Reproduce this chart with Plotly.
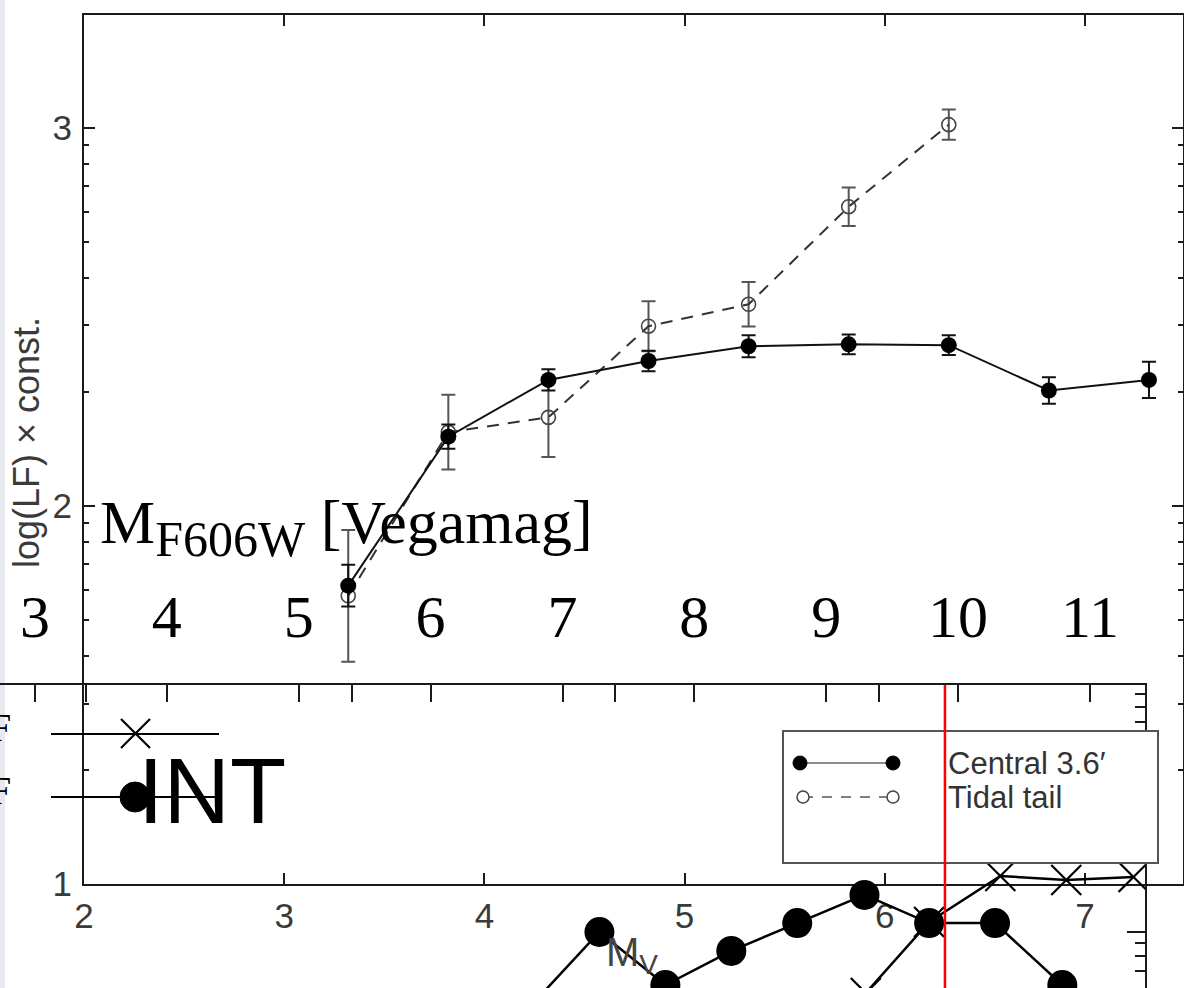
import math
import plotly.graph_objects as go

W, H = 1184, 988

# ---- luminosity function: central field vs tidal tail (log units) ----
mag_bins = [3.32, 3.82, 4.32, 4.82, 5.32, 5.82, 6.32, 6.82, 7.32]
central_lf = [1.789, 2.183, 2.333, 2.383, 2.422, 2.427, 2.425, 2.305, 2.333]
central_err = [0.055, 0.032, 0.028, 0.027, 0.029, 0.026, 0.026, 0.035, 0.048]
tidal_mag = [3.32, 3.82, 4.32, 4.82, 5.32, 5.82, 6.32]
tidal_lf = [1.762, 2.195, 2.234, 2.475, 2.533, 2.791, 3.008]
tidal_err = [0.174, 0.099, 0.105, 0.066, 0.059, 0.051, 0.040]

# ---- INT luminosity function on the F606W scale ----
int_dot_mag = [6.78, 7.28, 7.78, 8.28, 8.78, 9.29, 9.78, 10.28, 10.79]
int_dot_lf = [0.715, 1.000, 0.787, 0.924, 1.036, 1.149, 1.036, 1.036, 0.787]
int_cross_mag = [9.30, 9.78, 10.32, 10.82, 11.33]
int_cross_lf = [0.755, 1.040, 1.225, 1.209, 1.221]
limit_mag = 9.90

mv_ticks = [2, 3, 4, 5, 6, 7]
lf_ticks = [1, 2, 3]
f606_ticks = [3, 4, 5, 6, 7, 8, 9, 10, 11]
f606_minor = [3.39, 5.40, 7.40, 9.40]


def px(x):
    return x / W


def py(y):
    return 1 - y / H


SANS = "Liberation Sans, Arial, sans-serif"
SERIF = "Liberation Serif, Times New Roman, serif"
INK = "#1a1a1a"
GREY_TXT = "#3a3a3a"

lf_minor = [n + math.log10(k) for n in (1, 2) for k in range(2, 10)]
int_minor = [math.log10(k) for k in range(6, 10)] + [1 + math.log10(k) for k in range(2, 10)]

fig = go.Figure()

# INT panel traces
fig.add_trace(go.Scatter(
    x=int_cross_mag, y=int_cross_lf, xaxis="x2", yaxis="y2", mode="lines+markers",
    line=dict(color="black", width=2.5),
    marker=dict(symbol="x-thin", size=30, line=dict(color="black", width=2.2)),
    showlegend=False, hoverinfo="skip"))
fig.add_trace(go.Scatter(
    x=int_dot_mag, y=int_dot_lf, xaxis="x2", yaxis="y2", mode="lines+markers",
    line=dict(color="black", width=2.5),
    marker=dict(symbol="circle", size=30, color="black"),
    showlegend=False, hoverinfo="skip"))

# LF panel traces
fig.add_trace(go.Scatter(
    x=tidal_mag, y=tidal_lf, xaxis="x", yaxis="y", mode="lines+markers",
    line=dict(color="#333333", width=2, dash="12px,9px"),
    marker=dict(symbol="circle-open", size=14, color="#444444", line=dict(width=1.6)),
    error_y=dict(type="data", array=tidal_err, color="#555555", thickness=2, width=7),
    showlegend=False, hoverinfo="skip"))
fig.add_trace(go.Scatter(
    x=mag_bins, y=central_lf, xaxis="x", yaxis="y", mode="lines+markers",
    line=dict(color="#111111", width=2),
    marker=dict(symbol="circle", size=16, color="black"),
    error_y=dict(type="data", array=central_err, color="#111111", thickness=2, width=7),
    showlegend=False, hoverinfo="skip"))

axis_common = dict(showgrid=False, zeroline=False, showline=True, linecolor=INK, linewidth=2,
                   tickcolor=INK, tickwidth=2, automargin=False)

fig.update_layout(
    width=W, height=H, margin=dict(l=0, r=0, t=0, b=0, pad=0), autosize=False,
    paper_bgcolor="white", plot_bgcolor="rgba(0,0,0,0)", showlegend=False,
    xaxis=dict(domain=[px(84), px(1183)], range=[2, 7.49], anchor="y",
               tickmode="array", tickvals=mv_ticks, ticks="inside", ticklen=11, mirror="ticks",
               tickfont=dict(family=SANS, size=35, color=GREY_TXT), ticklabelstandoff=0,
               **axis_common),
    yaxis=dict(domain=[py(884), py(15)], range=[1.0, 3.298], anchor="x",
               tickmode="array", tickvals=lf_ticks, ticktext=[str(t) for t in lf_ticks],
               ticks="inside", ticklen=11, mirror="ticks",
               minor=dict(tickmode="array", tickvals=lf_minor, ticks="inside", ticklen=5,
                          tickcolor=INK, tickwidth=1.5),
               tickfont=dict(family=SANS, size=35, color=GREY_TXT), ticklabelstandoff=3,
               **axis_common),
    xaxis2=dict(domain=[0, px(1145)], range=[2.7346, 2.7346 + 1145 / 131.875], anchor="y2",
                side="top", tickmode="array", tickvals=f606_ticks, ticks="inside", ticklen=17,
                minor=dict(tickmode="array", tickvals=f606_minor, ticks="inside", ticklen=17,
                           tickcolor=INK, tickwidth=2),
                tickfont=dict(family=SERIF, size=60, color="black"), ticklabelstandoff=22,
                **axis_common),
    yaxis2=dict(domain=[0, py(685)], range=[0.7751, 1.992], anchor="x2", side="right",
                tickmode="array", tickvals=[1, 2], ticks="inside", ticklen=18,
                showticklabels=False,
                minor=dict(tickmode="array", tickvals=int_minor, ticks="inside", ticklen=10,
                           tickcolor=INK, tickwidth=2),
                **axis_common),
)

shapes = [
    # grey strip at the left border
    dict(type="rect", xref="paper", yref="paper", x0=0, x1=px(5), y0=0, y1=1,
         fillcolor="#e8e9ef", line=dict(width=0), layer="below"),
    # legend box of the LF panel
    dict(type="rect", xref="paper", yref="paper", x0=px(783), x1=px(1158), y0=py(863), y1=py(731),
         fillcolor="white", line=dict(color="#555555", width=2), layer="above"),
    dict(type="line", xref="paper", yref="paper", x0=px(800), x1=px(893), y0=py(763), y1=py(763),
         line=dict(color="#666666", width=1.6), layer="above"),
    dict(type="line", xref="paper", yref="paper", x0=px(803), x1=px(893), y0=py(797), y1=py(797),
         line=dict(color="#555555", width=1.6, dash="10px,9px"), layer="above"),
]
for cx in (800, 893):
    shapes.append(dict(type="circle", xref="paper", yref="paper",
                       x0=px(cx - 7), x1=px(cx + 7), y0=py(763 + 7), y1=py(763 - 7),
                       fillcolor="black", line=dict(color="black", width=1), layer="above"))
for cx in (803, 893):
    shapes.append(dict(type="circle", xref="paper", yref="paper",
                       x0=px(cx - 6), x1=px(cx + 6), y0=py(797 + 6), y1=py(797 - 6),
                       fillcolor="white", line=dict(color="#444444", width=1.5), layer="above"))

# legend of the INT panel
shapes += [
    dict(type="line", xref="paper", yref="paper", x0=px(51), x1=px(219), y0=py(734), y1=py(734),
         line=dict(color="black", width=2.2), layer="above"),
    dict(type="path", xref="paper", yref="paper",
         path=f"M {px(121)} {py(719)} L {px(150)} {py(748)} M {px(150)} {py(719)} L {px(121)} {py(748)}",
         line=dict(color="black", width=2.2), layer="above"),
    dict(type="line", xref="paper", yref="paper", x0=px(51), x1=px(215), y0=py(797), y1=py(797),
         line=dict(color="black", width=2.2), layer="above"),
    dict(type="circle", xref="paper", yref="paper", x0=px(120), x1=px(150), y0=py(812), y1=py(782),
         fillcolor="black", line=dict(color="black", width=1), layer="above"),
    # completeness limit
    dict(type="line", xref="x2", yref="paper", x0=limit_mag, x1=limit_mag, y0=0, y1=py(685),
         line=dict(color="#ff0000", width=2.5), layer="above"),
]
fig.update_layout(shapes=shapes)


def note(text, x, y, size, family=SANS, color="black", xanchor="center", angle=0):
    return dict(text=text, x=px(x), y=py(y), xref="paper", yref="paper", xanchor=xanchor,
                yanchor="middle", textangle=angle, showarrow=False,
                font=dict(family=family, size=size, color=color))


annotations = [
    note("log(LF) × const.", 26, 443, 36, color=GREY_TXT, angle=-90),
    note("M<sub><span style='font-size:50px'>F606W</span></sub> [Vegamag]", 98, 527, 62,
         family=SERIF, xanchor="left"),
    note("M<sub>V</sub>", 632, 955, 40, color="#444444"),
    note("INT", 136, 791, 92, xanchor="left"),
    note("Central 3.6′", 946, 763, 31, color="#333333", xanchor="left"),
    note("Tidal tail", 946, 797, 31, color="#333333", xanchor="left"),
    note("F", 13, 727, 40, family=SERIF, xanchor="right"),
    note("F", 13, 790, 40, family=SERIF, xanchor="right"),
]
fig.update_layout(annotations=annotations)

fig.write_html("out.html")
